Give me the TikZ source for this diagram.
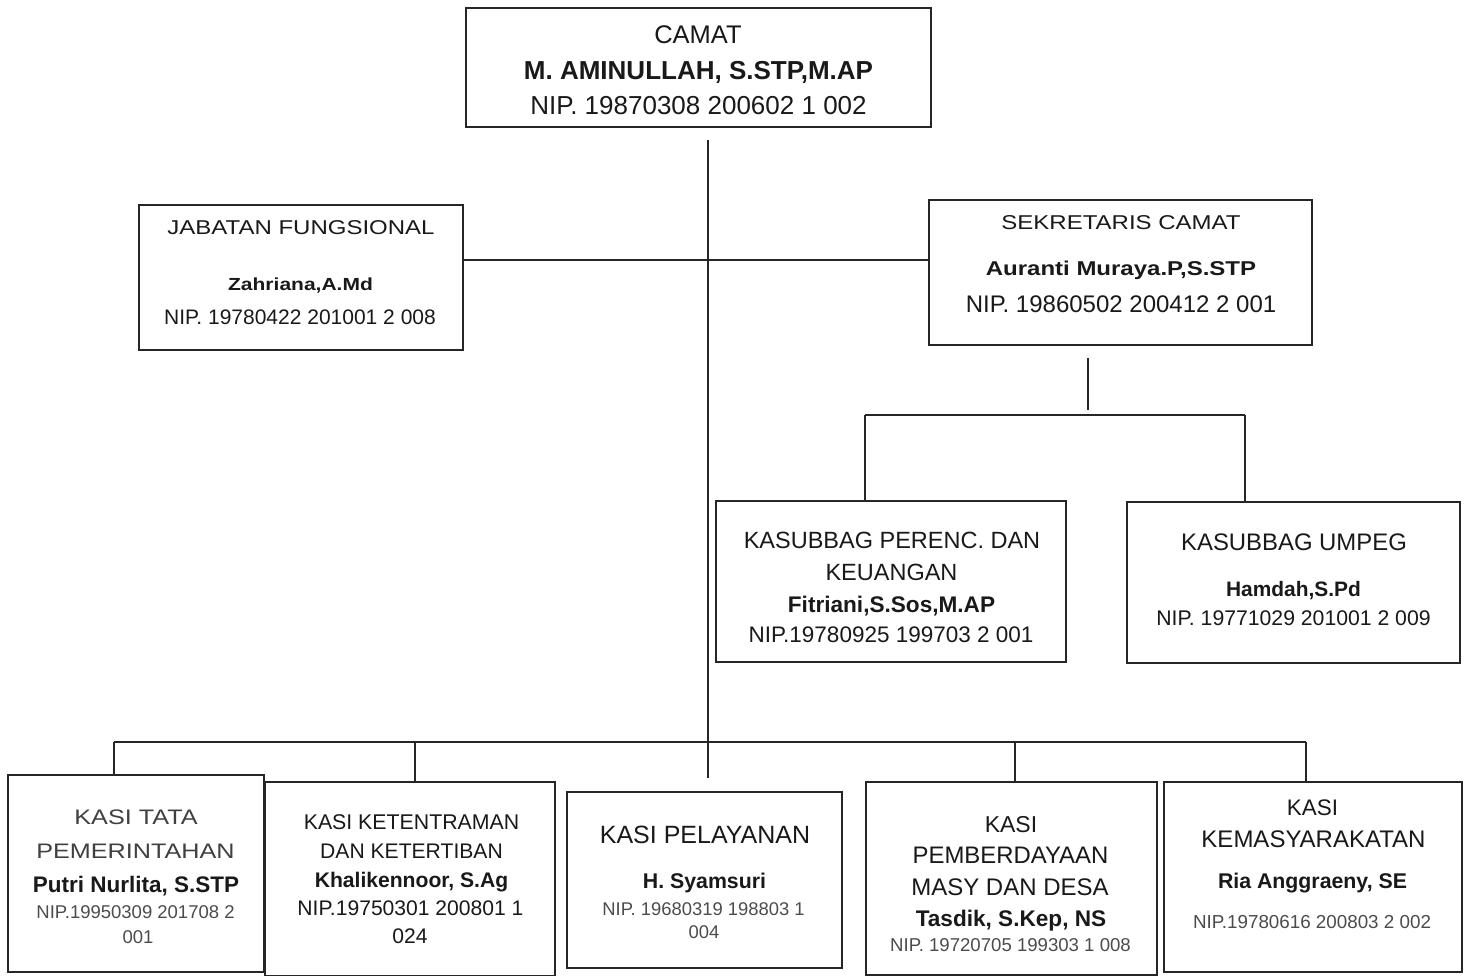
\documentclass[tikz,border=0pt]{standalone}
\usepackage{fontspec}
\setmainfont{Liberation Sans}
\newfontfamily\wsf[FakeStretch=1.2]{Liberation Sans}
\newcommand{\myfs}[1]{\fontsize{#1}{#1}\selectfont}
\begin{document}
\begin{tikzpicture}[x=1pt,y=-1pt,
  box/.style={draw=black!85, line width=1.8pt, rectangle, inner sep=0pt},
  conn/.style={draw=black!85, line width=1.5pt},
  tl/.style={anchor=base, inner sep=0pt, text=black!90},
  sm/.style={anchor=base, inner sep=0pt, text=black!70}]
\useasboundingbox (0,0) rectangle (1468,976);
\fill[white] (0,0) rectangle (1468,976);

% boxes
\node[box, minimum width=465, minimum height=119] (camat) at (698.5,67.5) {};
\node[box, minimum width=324, minimum height=145] (jab) at (301,277.5) {};
\node[box, minimum width=383, minimum height=145] (sek) at (1120.5,272.5) {};
\node[box, minimum width=350, minimum height=161] (perenc) at (891,581.5) {};
\node[box, minimum width=333, minimum height=161] (umpeg) at (1293.5,582.5) {};
\node[box, minimum width=256, minimum height=197] (b1) at (136,873.5) {};
\node[box, minimum width=290, minimum height=194] (b2) at (410,879) {};
\node[box, minimum width=275, minimum height=176] (b3) at (704.5,880) {};
\node[box, minimum width=291, minimum height=193] (b4) at (1011.5,878.5) {};
\node[box, minimum width=298, minimum height=190] (b5) at (1313,877) {};

% camat
\node[tl, font=\myfs{25.5}] (c1) at (698,44) {CAMAT};
\node[tl, font=\myfs{26}\bfseries] (c2) at (698.5,80) {M. AMINULLAH, S.STP,M.AP};
\node[tl, font=\myfs{26}] (c3) at (698.5,115) {NIP. 19870308 200602 1 002};

% jabatan fungsional
\node[tl, font=\myfs{20}\wsf] (j1) at (301,235) {JABATAN FUNGSIONAL};
\node[tl, font=\myfs{17.5}\wsf\bfseries] (j2) at (300.5,291) {Zahriana,A.Md};
\node[tl, font=\myfs{21}] (j3) at (300,324.5) {NIP. 19780422 201001 2 008};

% sekretaris
\node[tl, font=\myfs{20}\wsf] (s1) at (1121,230) {SEKRETARIS CAMAT};
\node[tl, font=\myfs{20}\wsf\bfseries] (s2) at (1121,276) {Auranti Muraya.P,S.STP};
\node[tl, font=\myfs{24}] (s3) at (1121,312.6) {NIP. 19860502 200412 2 001};

% kasubbag perenc
\node[tl, font=\myfs{23.5}] (p1) at (892,548.4) {KASUBBAG PERENC. DAN};
\node[tl, font=\myfs{23.5}] (p2) at (891.5,580.4) {KEUANGAN};
\node[tl, font=\myfs{22.6}\bfseries] (p3) at (891.5,612) {Fitriani,S.Sos,M.AP};
\node[tl, font=\myfs{22.5}] (p4) at (891,642) {NIP.19780925 199703 2 001};

% kasubbag umpeg
\node[tl, font=\myfs{23.9}] (u1) at (1294,550.6) {KASUBBAG UMPEG};
\node[tl, font=\myfs{20.9}\bfseries] (u2) at (1293.5,596.5) {Hamdah,S.Pd};
\node[tl, font=\myfs{21.2}] (u3) at (1293.5,625.6) {NIP. 19771029 201001 2 009};

% box 1
\node[tl, font=\myfs{21}\wsf, text=black!75] (a1) at (136,824.5) {KASI TATA};
\node[tl, font=\myfs{21}\wsf, text=black!75] (a2) at (135.5,858.5) {PEMERINTAHAN};
\node[tl, font=\myfs{22.5}\bfseries] (a3) at (136,892) {Putri Nurlita, S.STP};
\node[sm, font=\myfs{18.5}] (a4) at (135.5,918.6) {NIP.19950309 201708 2};
\node[sm, font=\myfs{18.5}] (a5) at (138,943.6) {001};

% box 2
\node[tl, font=\myfs{21.3}] (k1) at (411.5,829.6) {KASI KETENTRAMAN};
\node[tl, font=\myfs{21.1}] (k2) at (411.5,858.6) {DAN KETERTIBAN};
\node[tl, font=\myfs{21.1}\bfseries] (k3) at (411.5,887.6) {Khalikennoor, S.Ag};
\node[tl, font=\myfs{21.1}] (k4) at (410.5,915.6) {NIP.19750301 200801 1};
\node[tl, font=\myfs{21.1}] (k5) at (410,943.6) {024};

% box 3
\node[tl, font=\myfs{25}] (l1) at (705,843) {KASI PELAYANAN};
\node[tl, font=\myfs{21.3}\bfseries] (l2) at (704.5,888.6) {H. Syamsuri};
\node[sm, font=\myfs{18.4}] (l3) at (703.5,915.6) {NIP. 19680319 198803 1};
\node[sm, font=\myfs{18.4}] (l4) at (704,938.6) {004};

% box 4
\node[tl, font=\myfs{23}] (m1) at (1011,832) {KASI};
\node[tl, font=\myfs{23.9}] (m2) at (1010.5,863.6) {PEMBERDAYAAN};
\node[tl, font=\myfs{24}] (m3) at (1010,895.6) {MASY DAN DESA};
\node[tl, font=\myfs{22.6}\bfseries] (m4) at (1011,926) {Tasdik, S.Kep, NS};
\node[sm, font=\myfs{18.6}] (m5) at (1010.5,951.7) {NIP. 19720705 199303 1 008};

% box 5
\node[tl, font=\myfs{22.5}] (r1) at (1312.5,815) {KASI};
\node[tl, font=\myfs{24}] (r2) at (1313.5,847.6) {KEMASYARAKATAN};
\node[tl, font=\myfs{21.3}\bfseries] (r3) at (1312.5,888.6) {Ria Anggraeny, SE};
\node[sm, font=\myfs{18.8}] (r4) at (1312,928.7) {NIP.19780616 200803 2 002};

% connector coordinates
\coordinate (trtop) at (708,140);
\coordinate (trbot) at (708,778);
\coordinate (hl) at (708,260);
\coordinate (sd1) at (1088,358);
\coordinate (sd2) at (1088,410);
\coordinate (bus2l) at (865,415);
\coordinate (bus2r) at (1245,415);
\coordinate (bus3l) at (114,742);
\coordinate (bus3r) at (1306,742);
\coordinate (d2) at (415,742);
\coordinate (d4) at (1015,742);

% connectors
\draw[conn] (trtop) -- (trbot);
\draw[conn] (jab.east |- hl) -- (sek.west |- hl);
\draw[conn] (sd1) -- (sd2);
\draw[conn] (bus2l) -- (bus2r);
\draw[conn] (bus2l) -- (bus2l |- perenc.north);
\draw[conn] (bus2r) -- (bus2r |- umpeg.north);
\draw[conn] (bus3l) -- (bus3r);
\draw[conn] (bus3l) -- (bus3l |- b1.north);
\draw[conn] (d2) -- (d2 |- b2.north);
\draw[conn] (d4) -- (d4 |- b4.north);
\draw[conn] (bus3r) -- (bus3r |- b5.north);
\end{tikzpicture}
\end{document}
